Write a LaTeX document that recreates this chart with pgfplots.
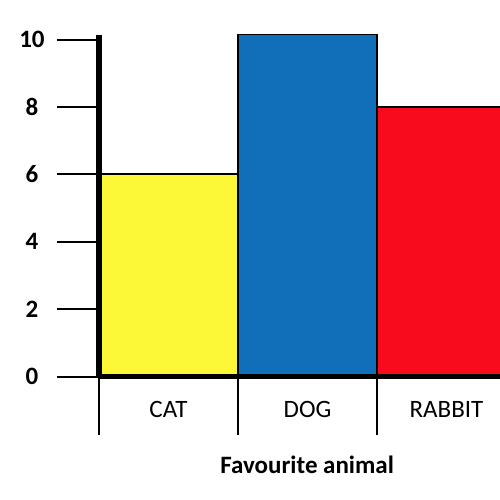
\documentclass[border=0pt]{standalone}
\usepackage{fontspec}
\setmainfont{Carlito}
\usepackage{pgfplots}
\pgfplotsset{compat=1.18}
\definecolor{catyellow}{RGB}{253,248,55}
\definecolor{dogblue}{RGB}{17,111,186}
\definecolor{rabbitred}{RGB}{248,11,28}

\begin{document}
\begin{tikzpicture}
\begin{axis}[
    scale only axis,
    width=401pt,
    height=341pt,
    xmin=0, xmax=2.885,
    ymin=0, ymax=10.12,
    clip=false,
    axis on top,
    axis x line=bottom,
    axis y line=left,
    axis line style={-, line width=5.5pt, black},
    ytick={0,2,4,6,8,10},
    xtick={0.5,1.5,2.5},
    xticklabels={CAT,DOG,RABBIT},
    minor xtick={0,1,2},
    tick align=outside,
    major tick length=42pt,
    minor tick length=59pt,
    y tick style={line width=2pt, black},
    major x tick style={draw=none},
    minor x tick style={line width=2pt, black},
    /pgf/number format/assume math mode=true,
    tick label style={font=\fontsize{25}{30}\selectfont},
    yticklabel style={font=\fontsize{25}{30}\selectfont\bfseries, anchor=center, xshift=-25pt},
    xticklabel style={anchor=center, yshift=9pt},
    xlabel={\bfseries Favourite animal},
    xlabel style={font=\fontsize{25}{30}\selectfont, at={(axis description cs:0.519,0)}, anchor=center, yshift=-88pt},
  ]
  \addplot[ybar, bar width=1, bar shift=0pt, fill=catyellow, draw=black, line width=1.8pt]
    coordinates {(0.5,6)};
  \addplot[ybar, bar width=1, bar shift=0pt, fill=dogblue, draw=black, line width=1.8pt]
    coordinates {(1.5,10.15)};
  \addplot[ybar, bar width=1, bar shift=0pt, fill=rabbitred, draw=black, line width=1.8pt]
    coordinates {(2.5,8)};
\end{axis}
\pgfresetboundingbox
\path[use as bounding box] (-99pt,-123.5pt) rectangle (401pt,376.5pt);
\end{tikzpicture}
\end{document}
